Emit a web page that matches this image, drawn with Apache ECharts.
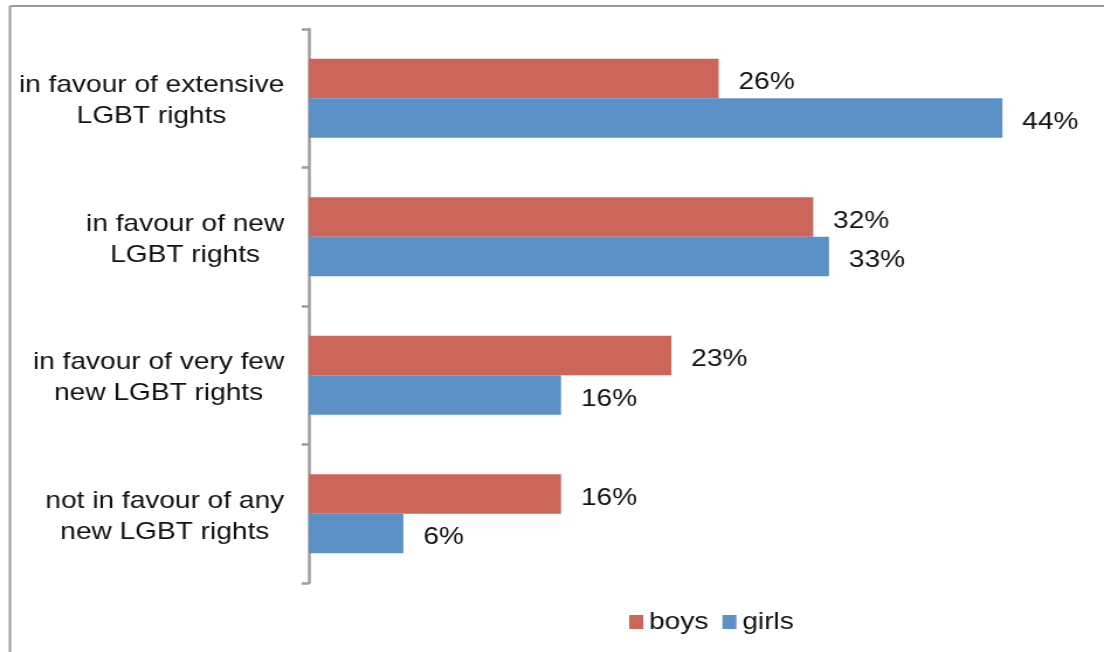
<!DOCTYPE html>
<html>
<head>
<meta charset="utf-8">
<script src="https://cdn.jsdelivr.net/npm/echarts@6/dist/echarts.min.js"></script>
<style>
  html, body { margin: 0; padding: 0; background: #fff; overflow: hidden; }
  #wrap { width: 1104px; height: 652px; overflow: hidden; }
  /* the chart is laid out at 944px wide and widened to 1104px */
  #chart { width: 944px; height: 652px; transform: scaleX(1.16949); transform-origin: 0 0; }
</style>
</head>
<body>
<div id="wrap"><div id="chart"></div></div>
<script>
const categories = [
  'in favour of extensive\nLGBT rights',
  'in favour of new\nLGBT rights',
  'in favour of very few\nnew LGBT rights',
  'not in favour of any\nnew LGBT rights'
];
const boys = [26, 32, 23, 16];
const girls = [44, 33, 16, 6];

const FONT = "'Liberation Sans', Arial, Helvetica, sans-serif";
const TEXT = '#111';
const AXIS = '#a0a0a0';

const chart = echarts.init(document.getElementById('chart'), null, { renderer: 'canvas' });

const valueLabel = {
  show: true,
  position: 'right',
  distance: 17,
  offset: [0, 4],
  formatter: p => p.value + '%',
  color: TEXT,
  fontFamily: FONT,
  fontSize: 24
};

chart.setOption({
  animation: false,
  backgroundColor: '#fff',
  grid: { left: 264, right: 6, top: 29, bottom: 69, containLabel: false },
  xAxis: {
    type: 'value',
    min: 0,
    max: 50,
    show: false
  },
  yAxis: {
    type: 'category',
    inverse: true,
    data: categories,
    axisLine: { show: true, lineStyle: { color: AXIS, width: 2.6 } },
    axisTick: { show: true, length: 6, lineStyle: { color: AXIS, width: 2.6 } },
    splitLine: { show: false },
    axisLabel: {
      margin: 21,
      padding: [6, 0, 0, 0],
      formatter: v => v.split('\n').map(l => '{c|' + l + '}').join('\n'),
      rich: {
        c: { align: 'center', color: TEXT, fontFamily: FONT, fontSize: 24, lineHeight: 31 }
      }
    }
  },
  legend: {
    left: 538,
    top: 610,
    padding: 0,
    itemWidth: 12,
    itemHeight: 14,
    itemGap: 12,
    icon: 'rect',
    textStyle: { color: TEXT, fontFamily: FONT, fontSize: 24 },
    data: ['boys', 'girls']
  },
  graphic: [
    { type: 'line', shape: { x1: 8.5, y1: 6, x2: 944, y2: 6 }, style: { stroke: '#999', lineWidth: 2 }, silent: true },
    { type: 'line', shape: { x1: 8.5, y1: 6, x2: 8.5, y2: 652 }, style: { stroke: '#999', lineWidth: 2 }, silent: true }
  ],
  series: [
    {
      name: 'boys',
      type: 'bar',
      data: boys,
      barGap: '0%',
      barCategoryGap: '43%',
      itemStyle: { color: '#CC665B' },
      label: valueLabel
    },
    {
      name: 'girls',
      type: 'bar',
      data: girls,
      barGap: '0%',
      barCategoryGap: '43%',
      itemStyle: { color: '#5B91C6' },
      label: valueLabel
    }
  ]
});
</script>
</body>
</html>
